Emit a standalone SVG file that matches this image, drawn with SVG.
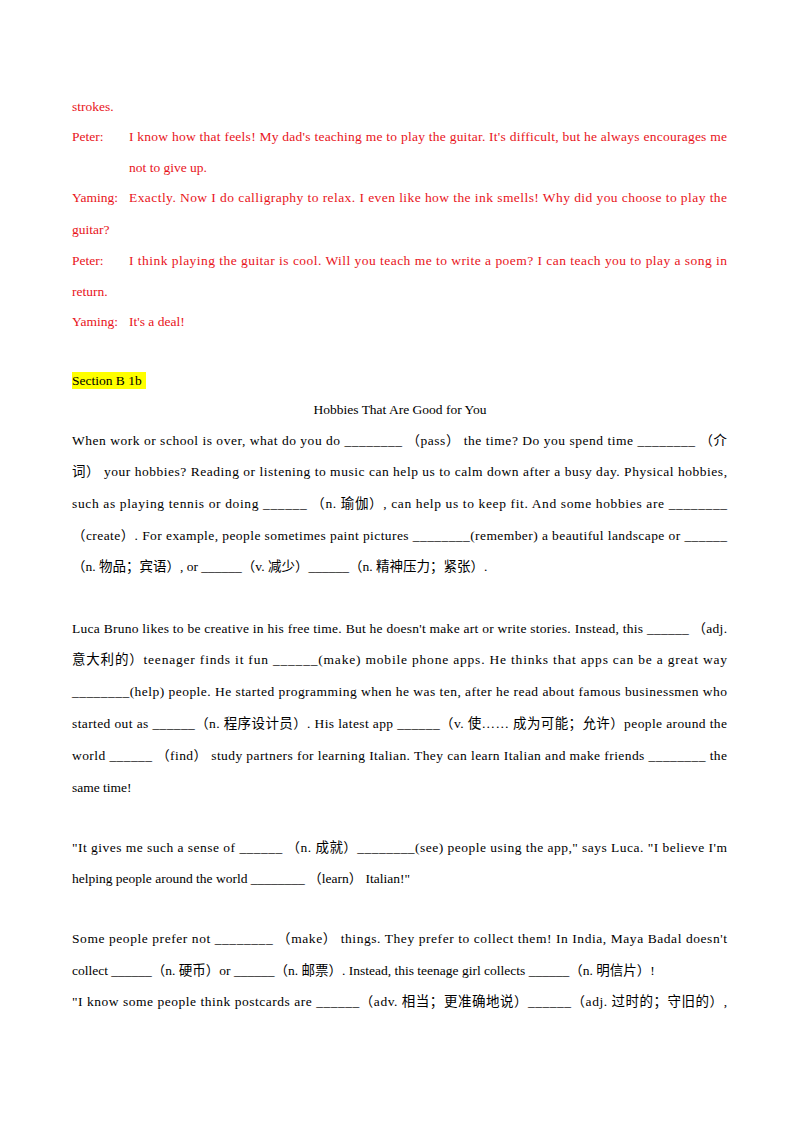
<svg xmlns="http://www.w3.org/2000/svg" width="800" height="1132" viewBox="0 0 800 1132">
<style>
text{font-family:"Liberation Serif","Noto Sans CJK SC",serif;font-size:13.5px;fill:#000}
.r{fill:#e8141b}
</style>
<rect width="800" height="1132" fill="#fff"/>
<text class="r" x="72" y="111">strokes.</text>
<text class="r" x="72" y="141">Peter:</text>
<text class="r" x="129" y="141" textLength="598" lengthAdjust="spacing">I know how that feels! My dad's teaching me to play the guitar. It's difficult, but he always encourages me</text>
<text class="r" x="129" y="172">not to give up.</text>
<text class="r" x="72" y="202">Yaming:</text>
<text class="r" x="129" y="202" textLength="598" lengthAdjust="spacing">Exactly. Now I do calligraphy to relax. I even like how the ink smells! Why did you choose to play the</text>
<text class="r" x="72" y="234">guitar?</text>
<text class="r" x="72" y="265">Peter:</text>
<text class="r" x="129" y="265" textLength="598" lengthAdjust="spacing">I think playing the guitar is cool. Will you teach me to write a poem? I can teach you to play a song in</text>
<text class="r" x="72" y="296">return.</text>
<text class="r" x="72" y="326">Yaming:</text>
<text class="r" x="129" y="326">It's a deal!</text>
<rect x="72" y="372" width="74" height="17" fill="#ffff00"/>
<text x="72" y="385">Section B 1b</text>
<text x="400" y="414" text-anchor="middle">Hobbies That Are Good for You</text>
<text x="72" y="445" textLength="655" lengthAdjust="spacing">When work or school is over, what do you do ________ （pass）  the time? Do you spend time ________ （介</text>
<text x="72" y="476" textLength="655" lengthAdjust="spacing">词）  your hobbies? Reading or listening to music can help us to calm down after a busy day. Physical hobbies,</text>
<text x="72" y="508" textLength="655" lengthAdjust="spacing">such as playing tennis or doing ______ （n. 瑜伽）, can help us to keep fit. And some hobbies are ________</text>
<text x="72" y="540" textLength="655" lengthAdjust="spacing">（create）. For example, people sometimes paint pictures ________(remember) a beautiful landscape or ______</text>
<text x="72" y="571">（n. 物品；宾语）, or ______（v. 减少）______（n. 精神压力；紧张）.</text>
<text x="72" y="633" textLength="655" lengthAdjust="spacing">Luca Bruno likes to be creative in his free time. But he doesn't make art or write stories. Instead, this ______ （adj.</text>
<text x="72" y="664" textLength="655" lengthAdjust="spacing">意大利的）teenager finds it fun ______(make) mobile phone apps. He thinks that apps can be a great way</text>
<text x="72" y="696" textLength="655" lengthAdjust="spacing">________(help) people. He started programming when he was ten, after he read about famous businessmen who</text>
<text x="72" y="728" textLength="655" lengthAdjust="spacing">started out as ______（n. 程序设计员）. His latest app ______（v. 使…… 成为可能；允许）people around the</text>
<text x="72" y="760" textLength="655" lengthAdjust="spacing">world ______ （find）  study partners for learning Italian. They can learn Italian and make friends ________ the</text>
<text x="72" y="792">same time!</text>
<text x="72" y="852" textLength="655" lengthAdjust="spacing">"It gives me such a sense of ______ （n. 成就）________(see) people using the app," says Luca. "I believe I'm</text>
<text x="72" y="883">helping people around the world ________ （learn）  Italian!"</text>
<text x="72" y="943" textLength="655" lengthAdjust="spacing">Some people prefer not ________ （make）  things. They prefer to collect them! In India, Maya Badal doesn't</text>
<text x="72" y="975">collect ______（n. 硬币）or ______（n. 邮票）. Instead, this teenage girl collects ______（n. 明信片）!</text>
<text x="72" y="1006" textLength="655" lengthAdjust="spacing">"I know some people think postcards are ______（adv. 相当；更准确地说）______（adj. 过时的；守旧的）,</text>
</svg>
